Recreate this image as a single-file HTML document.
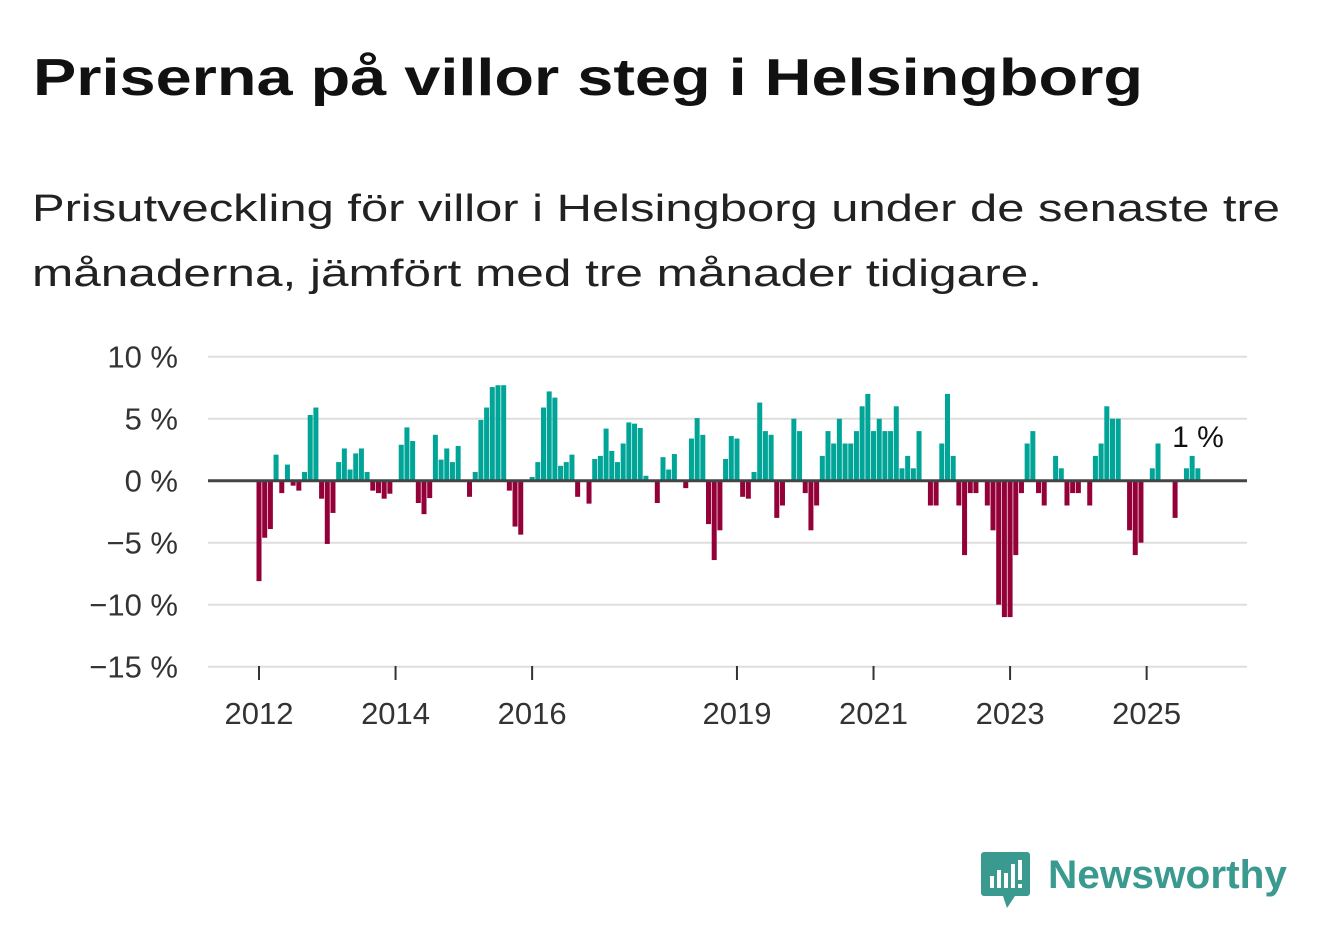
<!DOCTYPE html>
<html><head><meta charset="utf-8">
<style>
html,body{margin:0;padding:0;background:#fff;}
svg{display:block;font-family:"Liberation Sans","DejaVu Sans",sans-serif;}
</style></head>
<body>
<svg id="chart" width="1322" height="939" viewBox="0 0 1322 939" xmlns="http://www.w3.org/2000/svg">
  <text x="33" y="95" font-size="52" font-weight="bold" fill="#111" textLength="1110" lengthAdjust="spacingAndGlyphs">Priserna på villor steg i Helsingborg</text>
  <text x="32" y="221" font-size="38" fill="#222" textLength="1248" lengthAdjust="spacingAndGlyphs">Prisutveckling för villor i Helsingborg under de senaste tre</text>
  <text x="32" y="286" font-size="38" fill="#222" textLength="1010" lengthAdjust="spacingAndGlyphs">månaderna, jämfört med tre månader tidigare.</text>
  <g id="grid"></g>
  <g id="yaxis"></g>
  <g id="xaxis"></g>
  <g id="bars"></g>
  <line id="zero" x1="208" x2="1247" stroke="#444" stroke-width="3"/>
  <g id="labels"></g>
  <g>
    <path d="M984 852 h43 a3 3 0 0 1 3 3 v38 a3 3 0 0 1 -3 3 h-12 l-8 12 l-4 -12 h-19 a3 3 0 0 1 -3 -3 v-38 a3 3 0 0 1 3 -3z" fill="#3a9a8f"/>
    <rect x="990" y="876" width="4" height="12" fill="#fff"/>
    <rect x="997" y="870" width="4" height="18" fill="#fff"/>
    <rect x="1004" y="873" width="4" height="15" fill="#fff"/>
    <rect x="1011" y="864" width="4" height="24" fill="#fff"/>
    <rect x="1018" y="860" width="4" height="20" fill="#fff"/>
    <rect x="1018" y="884" width="4" height="4" fill="#fff"/>
    <text x="1048" y="888" font-size="40" font-weight="bold" fill="#3a9a8f" textLength="239" lengthAdjust="spacingAndGlyphs">Newsworthy</text>
  </g>
</svg>
<script>
const startYear = 2012;
const values = [
 -8.1,-4.6,-3.9,2.1,-1.0,1.3,-0.4,-0.8,0.7,5.3,5.9,-1.45,
 -5.1,-2.6,1.5,2.6,0.9,2.2,2.6,0.7,-0.8,-1.0,-1.45,-1.05,
 0,2.9,4.3,3.2,-1.8,-2.7,-1.4,3.7,1.7,2.6,1.5,2.8,
 0,-1.3,0.7,4.9,5.9,7.55,7.7,7.7,-0.8,-3.7,-4.35,0,
 0.3,1.5,5.9,7.2,6.7,1.2,1.5,2.1,-1.3,0,-1.85,1.75,
 2.0,4.2,2.4,1.5,3.0,4.7,4.6,4.25,0.4,0,-1.8,1.9,
 0.9,2.15,0,-0.6,3.4,5.05,3.7,-3.5,-6.4,-4.0,1.75,3.6,
 3.4,-1.3,-1.45,0.7,6.3,4.0,3.7,-3.0,-2.0,0,5.0,4.0,
 -1,-4,-2,2,4,3,5,3,3,4,6,7,
 4,5,4,4,6,1,2,1,4,0,-2,-2,
 3,7,2,-2,-6,-1,-1,0,-2,-4,-10,-11,
 -11,-6,-1,3,4,-1,-2,0,2,1,-2,-1,
 -1,0,-2,2,3,6,5,5,0,-4,-6,-5,
 0,1,3,0,0,-3,0,1,2,1
];
const yTicks = [10,5,0,-5,-10,-15];
const xTickYears = [2012,2014,2016,2019,2021,2023,2025];
const lastLabel = "1 %";

const NS = "http://www.w3.org/2000/svg";
function xMonth(i){ return 259 + i*5.69; }
function xYear(y){ return xMonth((y-startYear)*12); }
function yVal(v){ return 480.7 - v*12.4; }
function fmt(v){ return (v<0?"\u2212"+Math.abs(v):String(v))+" %"; }
function mk(tag, attrs, parent){
  const el=document.createElementNS(NS,tag);
  for(const k in attrs) el.setAttribute(k,attrs[k]);
  parent.appendChild(el); return el;
}
const grid=document.getElementById('grid'), yax=document.getElementById('yaxis'),
      xax=document.getElementById('xaxis'), bars=document.getElementById('bars'),
      labels=document.getElementById('labels');
yTicks.forEach(t=>{
  if(t!==0){
    const l=mk('line',{x1:208,x2:1247,y1:yVal(t),y2:yVal(t),stroke:'#dedede','stroke-width':2},grid);
    
    
  }
  const tx=mk('text',{x:178,y:yVal(t)+11,'font-size':31,fill:'#333','text-anchor':'end'},yax);
  tx.textContent=fmt(t);
  
  
});
xTickYears.forEach(y=>{
  const x=xYear(y);
  const tk=mk('line',{x1:x,x2:x,y1:666,y2:680,stroke:'#333','stroke-width':2},xax);
  
  
  const tx=mk('text',{x:x,y:724,'font-size':31,fill:'#333','text-anchor':'middle'},xax);
  tx.textContent=String(y);
  
  
});
values.forEach((v,i)=>{
  if(v===0) return;
  const x=xMonth(i)-2.5, y0=yVal(0), y1=yVal(v);
  const r=mk('rect',{x:x,y:Math.min(y0,y1),width:5,height:Math.abs(y1-y0),fill:v>0?'#00a598':'#940038'},bars);
  
  
});
const z=document.getElementById('zero'); z.setAttribute('y1',yVal(0)); z.setAttribute('y2',yVal(0));
const lt=mk('text',{x:1198,y:447,'font-size':30,fill:'#111','text-anchor':'middle',stroke:'#fff','stroke-width':6,'paint-order':'stroke'},labels);
lt.textContent=lastLabel;


</script>
</body></html>
